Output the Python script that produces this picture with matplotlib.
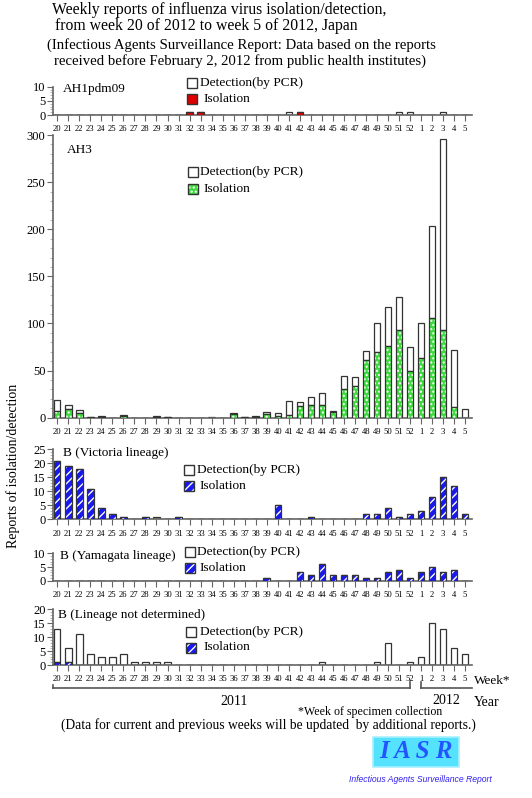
import matplotlib
matplotlib.use("Agg")
import matplotlib.pyplot as plt
from matplotlib.patches import Rectangle
from matplotlib.ticker import MultipleLocator
import numpy as np

# ---------------- data ----------------
weeks = list(range(20, 53)) + [1, 2, 3, 4, 5]
week_labels = [str(w) for w in weeks]

ah1_total = [0,0,0,0,0,0,0,0,0,0, 0,0,1,1,0,0,0,0,0,0, 0,1,1,0,0,0,0,0,0,0, 0,1,1,0,0,1,0,0]
ah1_iso   = [0,0,0,0,0,0,0,0,0,0, 0,0,1,1,0,0,0,0,0,0, 0,0,1,0,0,0,0,0,0,0, 0,0,0,0,0,0,0,0]

ah3_total = [19,14,8,1,2,0,3,0,0,2, 1,0,0,0,1,0,5,1,2,6, 5,18,17,22,26,7,44,43,71,100, 118,128,75,101,203,296,72,9]
ah3_iso   = [7,9,5,1,1,0,2,0,0,1, 1,0,0,0,0,0,4,1,1,4, 2,3,12,13,13,6,30,34,61,70, 76,93,50,63,106,93,11,0]

vic_total = [21,19,18,11,4,2,1,0,1,1, 0,1,0,0,0,0,0,0,0,0, 5,0,0,1,0,0,0,0,2,2, 4,1,2,3,8,15,12,2]
vic_iso   = [21,19,18,11,4,2,1,0,1,0, 0,1,0,0,0,0,0,0,0,0, 5,0,0,1,0,0,0,0,2,2, 4,1,2,3,8,15,12,2]

yam_total = [0,0,0,0,0,0,0,0,0,0, 0,0,0,0,0,0,0,0,0,1, 0,0,3,2,6,2,2,2,1,1, 3,4,1,3,5,3,4,0]
yam_iso   = [0,0,0,0,0,0,0,0,0,0, 0,0,0,0,0,0,0,0,0,1, 0,0,3,2,6,2,2,2,1,1, 3,4,1,3,5,3,4,0]

nd_total = [13,6,11,4,3,3,4,1,1,1, 1,0,0,0,0,0,0,0,0,0, 0,0,0,0,1,0,0,0,0,1, 8,0,1,3,15,13,6,4]
nd_iso   = [1,1,0,0,0,0,0,0,0,0, 0,0,0,0,0,0,0,0,0,0, 0,0,0,0,0,0,0,0,0,0, 0,0,0,0,0,0,0,0]

panel_names = ["AH1pdm09", "AH3", "B (Victoria lineage)", "B (Yamagata lineage)",
               "B (Lineage not determined)"]

# ---------------- style ----------------
W, H = 532, 798
SERIF = ["Liberation Serif", "DejaVu Serif"]
plt.rcParams["font.family"] = SERIF
plt.rcParams["hatch.linewidth"] = 1.0

fig = plt.figure(figsize=(W / 100, H / 100), dpi=100)

def fx(x):
    return x / W

def fy(y):
    return 1 - y / H

RED = "#e00000"
GREEN = "#3ddc3d"
BLUE = "#1818f0"
EDGE = "#333333"
AXC = "#666666"

x = np.arange(len(weeks))
XL, XR = 52.5, 472.0
x0, dx = 57.3, 11.02
xlim = ((XL - x0) / dx, (XR - x0) / dx)

def add_axes(ytop_px, ybot_px):
    return fig.add_axes([fx(XL), fy(ybot_px), (XR - XL) / W, (ybot_px - ytop_px) / H])

def style_axes(ax, ymax, major, minor):
    ax.set_xlim(*xlim)
    ax.set_ylim(0, ymax)
    for s in ["top", "right"]:
        ax.spines[s].set_visible(False)
    for s in ["left", "bottom"]:
        ax.spines[s].set_color(AXC)
        ax.spines[s].set_linewidth(1.2)
    ax.yaxis.set_major_locator(MultipleLocator(major))
    ax.yaxis.set_minor_locator(MultipleLocator(minor))
    ax.tick_params(axis="y", which="major", length=4, width=0.8, color=AXC,
                   labelsize=9, pad=1)
    ax.tick_params(axis="y", which="minor", length=2, width=0.6, color="#aaaaaa")
    ax.set_xticks(x)
    ax.set_xticklabels(week_labels)
    ax.tick_params(axis="x", length=4, width=0.8, color=AXC, labelsize=6.2, pad=3.5)
    ax.patch.set_alpha(0)

def draw_bars(ax, total, iso, kind):
    total = np.array(total)
    iso = np.array(iso)
    det = total - iso
    w = 0.58
    ax.bar(x, det, bottom=iso, width=w, facecolor="white", edgecolor=EDGE,
           linewidth=0.9, zorder=2)
    if kind == "red":
        ax.bar(x, iso, width=w, facecolor=RED, edgecolor=EDGE, linewidth=0.9, zorder=3)
    elif kind == "green":
        ax.bar(x, iso, width=w, facecolor=GREEN, edgecolor="white", hatch="....",
               linewidth=0, zorder=3)
        ax.bar(x, iso, width=w, fill=False, edgecolor=EDGE, linewidth=0.9, zorder=4)
    else:
        ax.bar(x, iso, width=w, facecolor=BLUE, edgecolor="white", hatch="////",
               linewidth=0, zorder=3)
        ax.bar(x, iso, width=w, fill=False, edgecolor=EDGE, linewidth=0.9, zorder=4)

def legend(bx, y_det, y_iso, kind, tx_det, tx_iso):
    s = 10
    fig.add_artist(Rectangle((fx(bx), fy(y_det + s / 2)), s / W, s / H,
                             transform=fig.transFigure, facecolor="white",
                             edgecolor=EDGE, linewidth=1.0))
    if kind == "red":
        fig.add_artist(Rectangle((fx(bx), fy(y_iso + s / 2)), s / W, s / H,
                                 transform=fig.transFigure, facecolor=RED,
                                 edgecolor=EDGE, linewidth=1.0))
    else:
        col = GREEN if kind == "green" else BLUE
        hat = "...." if kind == "green" else "////"
        fig.add_artist(Rectangle((fx(bx), fy(y_iso + s / 2)), s / W, s / H,
                                 transform=fig.transFigure, facecolor=col,
                                 edgecolor="white", hatch=hat, linewidth=0))
        fig.add_artist(Rectangle((fx(bx), fy(y_iso + s / 2)), s / W, s / H,
                                 transform=fig.transFigure, fill=False,
                                 edgecolor=EDGE, linewidth=1.0))
    fig.text(fx(tx_det), fy(y_det), "Detection(by PCR)", fontsize=9.6, va="center",
             ha="left")
    fig.text(fx(tx_iso), fy(y_iso), "Isolation", fontsize=9.6, va="center", ha="left")

# Panel 1: AH1pdm09
ax1 = add_axes(86.7, 115.0)
draw_bars(ax1, ah1_total, ah1_iso, "red")
style_axes(ax1, 10, 5, 1)
fig.text(fx(63), fy(89), panel_names[0], fontsize=9.5, va="center")
legend(187, 83, 99, "red", 200, 203)

# Panel 2: AH3
ax2 = add_axes(135.0, 417.7)
draw_bars(ax2, ah3_total, ah3_iso, "green")
style_axes(ax2, 300, 50, 10)
fig.text(fx(67), fy(150), panel_names[1], fontsize=9.5, va="center")
legend(188, 171.5, 188.5, "green", 200, 203)

# Panel 3: Victoria
ax3 = add_axes(449.3, 519.3)
draw_bars(ax3, vic_total, vic_iso, "blue")
style_axes(ax3, 25, 5, 1)
fig.text(fx(63), fy(453), panel_names[2], fontsize=9.5, va="center")
legend(184, 470, 486, "blue", 197, 200)

# Panel 4: Yamagata
ax4 = add_axes(553.3, 580.7)
draw_bars(ax4, yam_total, yam_iso, "blue")
style_axes(ax4, 10, 5, 1)
fig.text(fx(60), fy(555.5), panel_names[3], fontsize=9.5, va="center")
legend(185, 551.5, 568, "blue", 197, 200)

# Panel 5: Lineage not determined
ax5 = add_axes(609.3, 665.0)
draw_bars(ax5, nd_total, nd_iso, "blue")
style_axes(ax5, 20, 5, 1)
fig.text(fx(58), fy(615), panel_names[4], fontsize=9.5, va="center")
legend(186, 632, 647.5, "blue", 200, 203)

# ---------------- titles ----------------
fig.text(fx(52), fy(10), "Weekly reports of influenza virus isolation/detection,",
         fontsize=11.3, va="center", ha="left")
fig.text(fx(55), fy(26.5), "from week 20 of 2012 to week 5 of 2012, Japan",
         fontsize=11.3, va="center", ha="left")
fig.text(fx(47), fy(45), "(Infectious Agents Surveillance Report: Data based on the reports",
         fontsize=10.6, va="center", ha="left")
fig.text(fx(54), fy(61), "received before February 2, 2012 from public health institutes)",
         fontsize=10.6, va="center", ha="left")

fig.text(fx(13), fy(466), "Reports of isolation/detection", fontsize=10,
         rotation=90, va="center", ha="center")

# ---------------- bottom annotations ----------------
fig.text(fx(474), fy(680.5), "Week*", fontsize=9.5, va="center", ha="left")
lc = "#555555"
fig.add_artist(plt.Line2D([fx(53), fx(410)], [fy(688.3), fy(688.3)],
                          transform=fig.transFigure, color=lc, lw=1.2))
fig.add_artist(plt.Line2D([fx(410), fx(410)], [fy(688.3), fy(682)],
                          transform=fig.transFigure, color=lc, lw=1.2))
fig.add_artist(plt.Line2D([fx(53), fx(53)], [fy(688.3), fy(685)],
                          transform=fig.transFigure, color=lc, lw=1.2))
fig.add_artist(plt.Line2D([fx(420.7), fx(471.7)], [fy(688.3), fy(688.3)],
                          transform=fig.transFigure, color=lc, lw=1.2))
fig.add_artist(plt.Line2D([fx(420.7), fx(420.7)], [fy(688.3), fy(682)],
                          transform=fig.transFigure, color=lc, lw=1.2))
fig.text(fx(234), fy(701.5), "2011", fontsize=10, va="center", ha="center")
fig.text(fx(446), fy(700), "2012", fontsize=10, va="center", ha="center")
fig.text(fx(487), fy(702), "Year", fontsize=10, va="center", ha="center")
fig.text(fx(370), fy(712), "*Week of specimen collection", fontsize=8.6,
         va="center", ha="center")
fig.text(fx(268), fy(725), "(Data for current and previous weeks will be updated  by additional reports.)",
         fontsize=9.75, va="center", ha="center")

# IASR logo
fig.add_artist(Rectangle((fx(372.5), fy(766.7)), (459 - 372.5) / W, 30 / H,
                         transform=fig.transFigure, facecolor="#55e2ff",
                         edgecolor="#a8f0ff", linewidth=1.2))
fig.text(fx(415.7), fy(752), "I A S R", fontsize=18, fontweight="bold",
         fontstyle="italic", color="#2255ff", va="center", ha="center",
         family=["Liberation Serif", "DejaVu Serif"])
fig.text(fx(420), fy(779), "Infectious Agents Surveillance Report", fontsize=6.2,
         fontstyle="italic", color="#3322ee", va="center", ha="center",
         family=["Liberation Sans Narrow", "Liberation Sans", "DejaVu Sans"])

fig.savefig("out.png", dpi=100)
